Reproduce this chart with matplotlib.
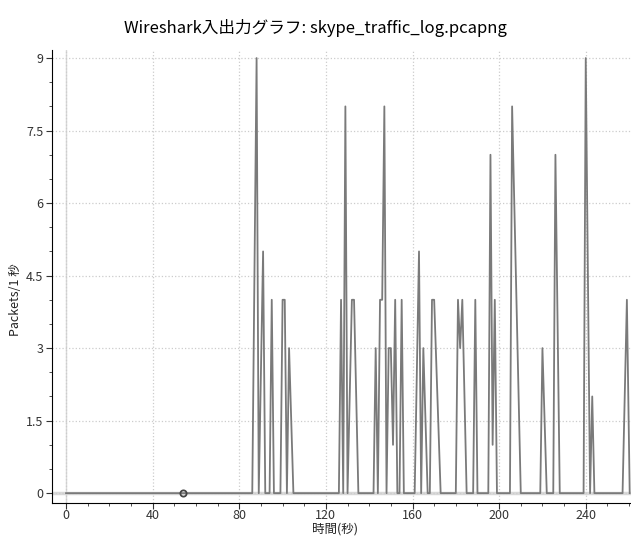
import numpy as np
import matplotlib.pyplot as plt
from matplotlib.ticker import MultipleLocator

plt.rcParams['font.family'] = ['Noto Sans CJK JP', 'DejaVu Sans']

# packets per second (polyline vertices)
times = [0, 86, 88, 89, 91, 92, 94, 95, 96, 99, 100, 101, 102, 103, 105,
         126, 127, 128, 129, 130, 132, 133, 135,
         142, 143, 144, 145, 146, 147, 148, 149, 150, 151, 152, 153, 154, 155, 156,
         161, 163, 164, 165, 167, 168, 169, 170, 173,
         180, 181, 182, 183, 185, 188, 189, 190,
         195, 196, 197, 198, 199, 205, 206, 208, 210,
         219, 220, 222, 225, 226, 228,
         239, 240, 242, 243, 244, 257, 259, 260.3]
packets = [0, 0, 9, 0, 5, 0, 0, 4, 0, 0, 4, 4, 0, 3, 0,
           0, 4, 0, 8, 0, 4, 4, 0,
           0, 3, 0, 4, 4, 8, 0, 3, 3, 1, 4, 0, 0, 4, 0,
           0, 5, 0, 3, 0, 0, 4, 4, 0,
           0, 4, 3, 4, 0, 0, 4, 0,
           0, 7, 1, 4, 0, 0, 8, 4, 0,
           0, 3, 0, 0, 7, 0,
           0, 9, 0, 2, 0, 0, 4, 0]

marker_t = [54]
marker_v = [0]

title = 'Wireshark入出力グラフ: skype_traffic_log.pcapng'

fig = plt.figure(figsize=(6.31, 5.36), dpi=100)
ax = fig.add_axes([0.082, 0.061, 0.918, 0.846])

ax.axvline(0, color='#d9d9d9', lw=1.0, zorder=1)
ax.axhline(0, color='#d9d9d9', lw=2.5, zorder=1)
ax.plot(times, packets, color='#7a7a7a', lw=1.3, zorder=3)
ax.plot(marker_t, marker_v, 'o', ms=4.5, mfc='none', mec='#444444', mew=1.3, zorder=4)

ax.set_xlim(-6.6, 260.9)
ax.set_ylim(-0.21, 9.17)
ax.xaxis.set_major_locator(MultipleLocator(40))
ax.xaxis.set_minor_locator(MultipleLocator(10))
ax.set_yticks([0, 1.5, 3, 4.5, 6, 7.5, 9])
ax.set_yticklabels(['0', '1.5', '3', '4.5', '6', '7.5', '9'])
ax.yaxis.set_minor_locator(MultipleLocator(0.5))

ax.grid(True, which='major', color='#cccccc', ls=':', lw=0.9)
for s in ['top', 'right']:
    ax.spines[s].set_visible(False)
ax.tick_params(which='both', direction='out', colors='#333333', labelsize=9)
ax.tick_params(which='major', length=4)
ax.tick_params(which='minor', length=2.5)
ax.tick_params(axis='x', pad=0)
ax.tick_params(axis='y', pad=2)

fig.text(0.5 * (0.082 + 1.0) - 0.01, 1 - 529 / 536, '時間(秒)', fontsize=9,
         ha='center', va='center', color='#222222')
fig.text(16 / 631, 1 - 300 / 536, 'Packets/1 秒', fontsize=9, rotation=90,
         ha='center', va='center', color='#222222')
fig.suptitle(title, fontsize=12, y=1 - 28 / 536, va='center')

fig.savefig('out.png', dpi=100)
